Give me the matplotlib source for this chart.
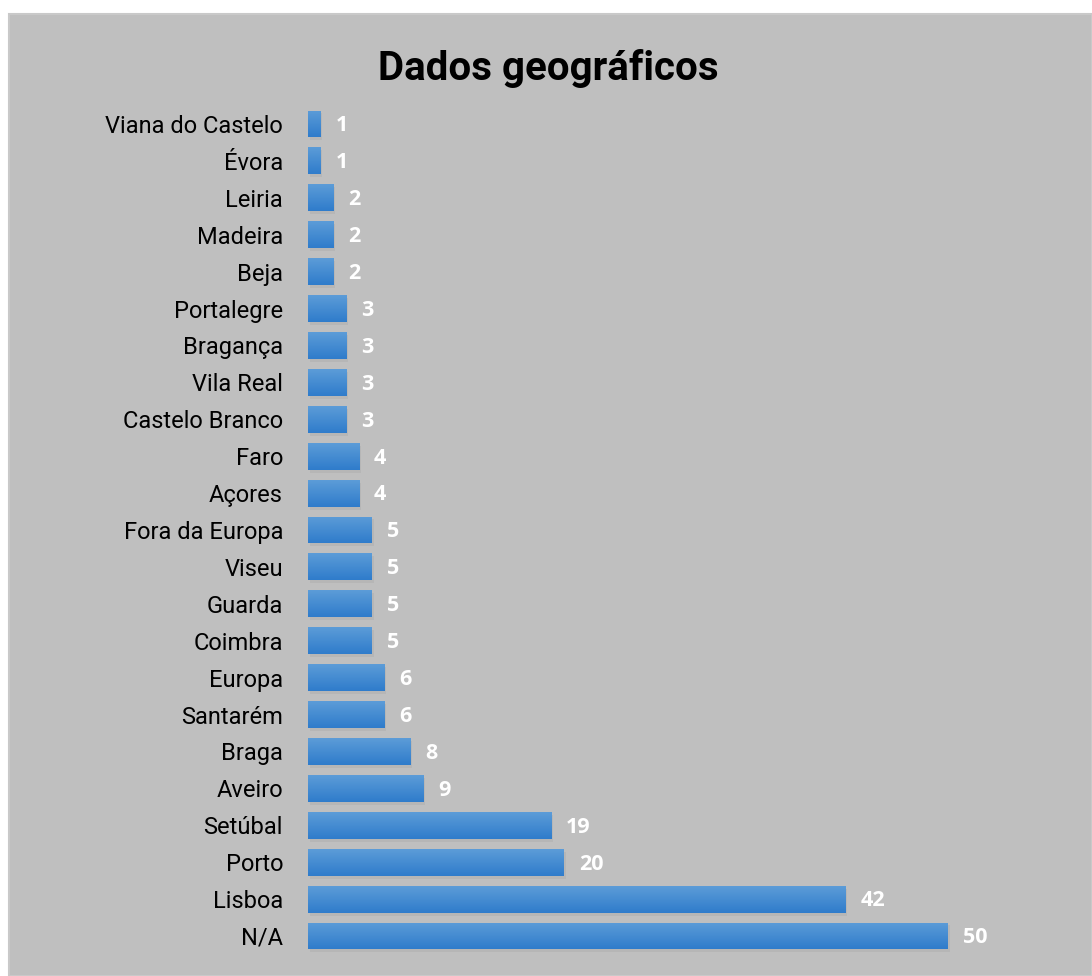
import numpy as np
import matplotlib.pyplot as plt
from matplotlib.patches import Rectangle
from matplotlib.colors import LinearSegmentedColormap

# dados (de baixo para cima)
regioes = ['N/A', 'Lisboa', 'Porto', 'Setúbal', 'Aveiro', 'Braga', 'Santarém',
           'Europa', 'Coimbra', 'Guarda', 'Viseu', 'Fora da Europa', 'Açores',
           'Faro', 'Castelo Branco', 'Vila Real', 'Bragança', 'Portalegre',
           'Beja', 'Madeira', 'Leiria', 'Évora', 'Viana do Castelo']
valores = [50, 42, 20, 19, 9, 8, 6, 6, 5, 5, 5, 5, 4, 4, 3, 3, 3, 3, 2, 2, 2, 1, 1]

W, H = 1092, 976
fig = plt.figure(figsize=(W / 100, H / 100), dpi=100, facecolor='white')

# painel cinzento (atrás dos eixos)
fig.patches.append(Rectangle((9 / W, 0), 1 - 9 / W, 1 - 14 / H, transform=fig.transFigure,
                             facecolor='#bfbfbf', edgecolor='#c9c9c9', lw=1.5, zorder=-10))

passo = 36.9
y_top = 124 - passo / 2
y_bot = 936 + passo / 2
ax = fig.add_axes([308 / W, 1 - y_bot / H, 1 - 308 / W, (y_bot - y_top) / H])
ax.set_facecolor('none')

pos = np.arange(len(regioes))
altura = 0.73

# sombra leve
ax.barh(pos - 0.08, valores, height=altura, left=0.12, color='#a8a8a8', alpha=0.35,
        zorder=1, lw=0)
barras = ax.barh(pos, valores, height=altura, color='#4a8fd6', zorder=2, lw=0)

# gradiente vertical
grad = np.linspace(0, 1, 64).reshape(-1, 1)
cmap = LinearSegmentedColormap.from_list('azul', ['#2f7ccb', '#5c9cd8'])
for b in barras:
    x0, y0 = b.get_x(), b.get_y()
    im = ax.imshow(grad, cmap=cmap, aspect='auto', origin='lower',
                   extent=[x0, x0 + b.get_width(), y0, y0 + b.get_height()], zorder=3)
    im.set_clip_path(b)

ax.set_xlim(0, (W - 308) / 12.8)
ax.set_ylim(-0.5, len(regioes) - 0.5)

for p, v in zip(pos, valores):
    ax.text(v + 1.15, p - 0.05, str(v), va='center', ha='left', color='white',
            fontsize=15.5, fontweight='bold', family='Open Sans', zorder=4)

ax.set_yticks(pos)
ax.set_yticklabels(regioes, fontsize=17, family='Roboto')
ax.tick_params(axis='y', length=0, pad=18)
ax.set_xticks([])
for s in ax.spines.values():
    s.set_visible(False)

fig.text(548 / W, 1 - 68 / H, 'Dados geográficos', ha='center', va='center',
         fontsize=29, fontweight='bold', family='Roboto')

fig.savefig('out.png', dpi=100, facecolor='white')
